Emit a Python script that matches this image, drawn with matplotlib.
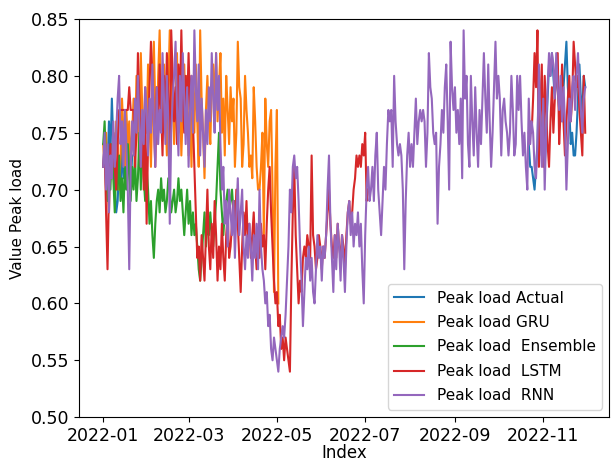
import numpy as np
import pandas as pd
import matplotlib
matplotlib.use("Agg")
import matplotlib.pyplot as plt

# daily peak load values (start 2022-01-01)
rnn = [
    0.72, 0.75, 0.70, 0.74, 0.68, 0.73, 0.71, 0.76, 0.72, 0.75,
    0.78, 0.80, 0.74, 0.76, 0.72, 0.77, 0.74, 0.70, 0.63, 0.72,
    0.76, 0.73, 0.78, 0.75, 0.80, 0.76, 0.72, 0.77, 0.74, 0.79,
    0.77, 0.73, 0.78, 0.75, 0.81, 0.76, 0.72, 0.79, 0.74, 0.77,
    0.75, 0.82, 0.78, 0.74, 0.80, 0.76, 0.67, 0.75, 0.78, 0.80,
    0.83, 0.77, 0.73, 0.80, 0.76, 0.82, 0.78, 0.74, 0.79, 0.72,
    0.77, 0.80, 0.75, 0.84, 0.79, 0.76, 0.81, 0.73, 0.78, 0.75,
    0.72, 0.77, 0.74, 0.79, 0.76, 0.82, 0.78, 0.75, 0.82, 0.77,
    0.80, 0.74, 0.70, 0.72, 0.67, 0.69, 0.65, 0.70, 0.68, 0.66,
    0.69, 0.64, 0.68, 0.71, 0.66, 0.68, 0.70, 0.65, 0.63, 0.66,
    0.64, 0.67, 0.65, 0.62, 0.66, 0.64, 0.67, 0.63, 0.70, 0.65,
    0.63, 0.62, 0.60, 0.61, 0.58, 0.59, 0.56, 0.55, 0.57, 0.56,
    0.55, 0.54, 0.56, 0.57, 0.58, 0.57, 0.59, 0.62, 0.65, 0.70,
    0.68, 0.72, 0.73, 0.71, 0.72, 0.69, 0.65, 0.62, 0.58, 0.61,
    0.64, 0.63, 0.65, 0.62, 0.64, 0.61, 0.60, 0.63, 0.66, 0.64,
    0.65, 0.62, 0.65, 0.64, 0.66, 0.70, 0.73, 0.67, 0.64, 0.61,
    0.66, 0.63, 0.67, 0.65, 0.62, 0.66, 0.64, 0.61, 0.65, 0.68,
    0.69, 0.66, 0.68, 0.65, 0.67, 0.66, 0.68, 0.65, 0.67, 0.63,
    0.60, 0.66, 0.70, 0.72, 0.69, 0.70, 0.72, 0.69, 0.73, 0.75,
    0.70, 0.68, 0.66, 0.69, 0.72, 0.70, 0.74, 0.77, 0.76, 0.77,
    0.72, 0.80, 0.76, 0.74, 0.73, 0.74, 0.73, 0.70, 0.63, 0.69,
    0.73, 0.75, 0.72, 0.74, 0.72, 0.75, 0.78, 0.74, 0.76, 0.77,
    0.76, 0.77, 0.76, 0.72, 0.75, 0.82, 0.79, 0.78, 0.75, 0.74,
    0.75, 0.67, 0.72, 0.74, 0.77, 0.75, 0.79, 0.81, 0.76, 0.70,
    0.83, 0.79, 0.77, 0.79, 0.75, 0.77, 0.74, 0.78, 0.71, 0.84,
    0.78, 0.80, 0.74, 0.72, 0.80, 0.76, 0.73, 0.79, 0.75, 0.72,
    0.77, 0.74, 0.78, 0.82, 0.78, 0.75, 0.81, 0.76, 0.72, 0.75,
    0.79, 0.83, 0.78, 0.80, 0.78, 0.73, 0.77, 0.78, 0.76, 0.75,
    0.73, 0.75, 0.80, 0.77, 0.73, 0.74, 0.80, 0.77, 0.80, 0.76,
    0.73, 0.75, 0.72, 0.70, 0.78, 0.74, 0.76, 0.75, 0.72, 0.71,
    0.74, 0.81, 0.76, 0.72, 0.78, 0.70, 0.75, 0.79, 0.82, 0.80,
    0.82, 0.81, 0.78, 0.82, 0.79, 0.77, 0.80, 0.76, 0.79, 0.76,
    0.70, 0.74, 0.78, 0.76, 0.79, 0.80, 0.77, 0.80, 0.82, 0.79,
    0.77, 0.75, 0.78, 0.79,
]

lstm_early = [
    0.72, 0.74, 0.68, 0.63, 0.70, 0.74, 0.71, 0.75, 0.72, 0.70,
    0.74, 0.77, 0.77, 0.77, 0.77, 0.77, 0.77, 0.77, 0.79, 0.77,
    0.77, 0.77, 0.72, 0.75, 0.82, 0.78, 0.72, 0.76, 0.70, 0.78,
    0.67, 0.74, 0.79, 0.83, 0.80, 0.76, 0.72, 0.79, 0.75, 0.81,
    0.77, 0.73, 0.80, 0.76, 0.82, 0.78, 0.72, 0.84, 0.80, 0.76,
    0.79, 0.74, 0.81, 0.77, 0.84, 0.78, 0.75, 0.80, 0.77, 0.82,
    0.77, 0.80, 0.76, 0.72, 0.68, 0.64, 0.65, 0.62, 0.66, 0.64,
    0.62, 0.66, 0.70, 0.65, 0.63, 0.67, 0.64, 0.69, 0.66, 0.62,
    0.65, 0.63, 0.67, 0.64, 0.62, 0.66, 0.68, 0.64, 0.65, 0.67,
    0.69, 0.66, 0.70, 0.67, 0.64, 0.61, 0.65, 0.68, 0.66, 0.69,
    0.65, 0.67, 0.64, 0.66, 0.68, 0.65, 0.63, 0.66, 0.64, 0.67,
    0.65, 0.66, 0.63, 0.67, 0.70, 0.72, 0.68, 0.65, 0.62, 0.60,
    0.61, 0.58, 0.59, 0.56, 0.57, 0.55, 0.57, 0.56, 0.55, 0.54,
    0.62, 0.68, 0.72, 0.66, 0.63, 0.60, 0.62, 0.61, 0.64, 0.65,
    0.64, 0.66, 0.65, 0.64, 0.73, 0.66, 0.65, 0.63, 0.64, 0.66,
    0.65, 0.63, 0.65, 0.64, 0.66, 0.68, 0.70, 0.67, 0.65, 0.64,
    0.66, 0.64, 0.67, 0.65, 0.64, 0.66, 0.65, 0.63, 0.66, 0.68,
    0.69, 0.67, 0.68, 0.70, 0.71, 0.73, 0.72, 0.73, 0.72, 0.74,
    0.73, 0.75, 0.69, 0.70,
]
lstm_late = [
    0.75, 0.76, 0.75, 0.78, 0.82, 0.79, 0.84, 0.72, 0.77, 0.81,
    0.72, 0.80, 0.77, 0.74, 0.72, 0.76, 0.79, 0.75, 0.78, 0.80,
    0.82, 0.74, 0.77, 0.81, 0.76, 0.73, 0.76, 0.78, 0.80, 0.76,
    0.78, 0.83, 0.81, 0.79, 0.80, 0.77, 0.75, 0.73, 0.80, 0.75,
]

actual_early = [
    0.72, 0.74, 0.70, 0.72, 0.76, 0.73, 0.78, 0.74, 0.70, 0.68,
    0.69, 0.72, 0.70, 0.74, 0.71, 0.75, 0.73, 0.72, 0.74, 0.70,
    0.73,
]
actual_late = [
    0.74, 0.72, 0.72, 0.71, 0.70, 0.72, 0.74, 0.80, 0.76, 0.73,
    0.77, 0.72, 0.75, 0.78, 0.81, 0.80, 0.82, 0.80, 0.78, 0.81,
    0.79, 0.77, 0.79, 0.76, 0.79, 0.81, 0.83, 0.79, 0.77, 0.74,
    0.75, 0.73, 0.73, 0.75, 0.78, 0.81, 0.78, 0.77, 0.80, 0.79,
]

gru = [
    0.74, 0.72, 0.75, 0.70, 0.68, 0.73, 0.71, 0.75, 0.72, 0.76,
    0.74, 0.70, 0.73, 0.78, 0.75, 0.72, 0.77, 0.74, 0.76, 0.72,
    0.75, 0.78, 0.74, 0.80, 0.76, 0.72, 0.82, 0.77, 0.74, 0.79,
    0.75, 0.81, 0.76, 0.72, 0.78, 0.83, 0.77, 0.74, 0.80, 0.84,
    0.78, 0.75, 0.81, 0.77, 0.73, 0.79, 0.84, 0.76, 0.80, 0.74,
    0.78, 0.82, 0.75, 0.79, 0.73, 0.77, 0.81, 0.76, 0.80, 0.73,
    0.77, 0.72, 0.79, 0.75, 0.81, 0.76, 0.72, 0.84, 0.78, 0.75,
    0.71, 0.77, 0.80, 0.76, 0.74, 0.79, 0.81, 0.77, 0.82, 0.76,
    0.79, 0.82, 0.75, 0.78, 0.73, 0.80, 0.77, 0.74, 0.79, 0.76,
    0.78, 0.72, 0.75, 0.83, 0.79, 0.78, 0.72, 0.74, 0.80, 0.77,
    0.75, 0.72, 0.73, 0.71, 0.79, 0.76, 0.72, 0.70, 0.70, 0.72,
    0.75, 0.66, 0.78, 0.74, 0.72, 0.76, 0.77, 0.70, 0.61, 0.72,
    0.77, 0.60,
]

ensemble = [
    0.74, 0.76, 0.72, 0.69, 0.73, 0.70, 0.74, 0.71, 0.68, 0.72,
    0.70, 0.73, 0.69, 0.71, 0.68, 0.72, 0.70, 0.74, 0.71, 0.69,
    0.72, 0.70, 0.73, 0.69, 0.71, 0.75, 0.70, 0.76, 0.71, 0.69,
    0.72, 0.70, 0.67, 0.69, 0.66, 0.64, 0.67, 0.69, 0.70, 0.68,
    0.71, 0.69, 0.70, 0.68, 0.69, 0.71, 0.70, 0.68, 0.69, 0.70,
    0.68, 0.69, 0.71, 0.69, 0.70, 0.68, 0.66, 0.68, 0.70, 0.67,
    0.69, 0.66, 0.68, 0.66, 0.67, 0.65, 0.63, 0.62, 0.64, 0.66,
    0.68, 0.65, 0.67, 0.66, 0.68, 0.66, 0.65, 0.67, 0.69, 0.72,
    0.75, 0.70, 0.68, 0.66, 0.68, 0.69, 0.70, 0.68, 0.69, 0.70,
    0.68, 0.69, 0.67,
]

dates = pd.date_range("2022-01-01", periods=len(rnn), freq="D")
n = len(dates)


def join(early, late):
    gap = n - len(early) - len(late)
    return np.concatenate([early, np.full(gap, np.nan), late])


actual = join(actual_early, actual_late)
lstm = join(lstm_early, lstm_late)

fig = plt.figure(figsize=(6.13, 4.62), dpi=100)
ax = fig.add_axes([0.129, 0.097, 0.865, 0.862])

ax.plot(dates, actual, label="Peak load Actual")
ax.plot(dates[:len(gru)], gru, label="Peak load GRU")
ax.plot(dates[:len(ensemble)], ensemble, label="Peak load  Ensemble")
ax.plot(dates, lstm, label="Peak load  LSTM")
ax.plot(dates, rnn, label="Peak load  RNN")

ax.set_ylim(0.5, 0.85)
ax.set_xlabel("Index", fontsize=12, labelpad=-1)
ax.set_ylabel("Value Peak load", fontsize=11)
ax.tick_params(labelsize=12.5)
ax.legend(loc="lower right", fontsize=11, labelspacing=0.62)

fig.savefig("out.png", dpi=100)
